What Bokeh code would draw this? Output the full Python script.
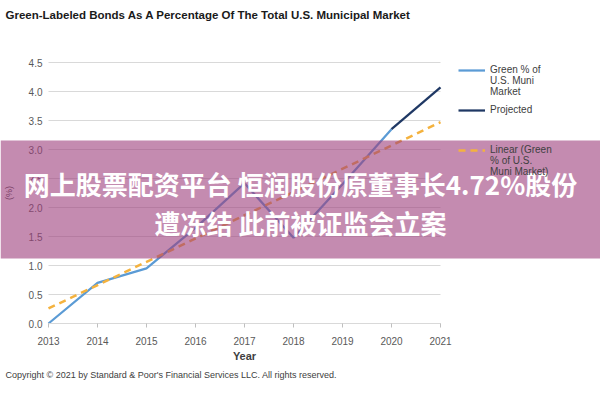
from bokeh.plotting import figure
from bokeh.models import (Legend, LegendItem, BoxAnnotation, Label,
                          FixedTicker, Range1d)
from bokeh.embed import file_html
from bokeh.resources import INLINE

# ---- data ----
years = [2013, 2014, 2015, 2016, 2017, 2018, 2019, 2020]
green_pct = [0.0, 0.70, 0.95, 1.65, 2.42, 1.48, 2.40, 3.35]
proj_years = [2020, 2021]
proj_pct = [3.35, 4.07]
trend_years = [2013, 2021]
trend_pct = [0.26, 3.47]
x_ticks = [2013, 2014, 2015, 2016, 2017, 2018, 2019, 2020, 2021]
y_ticks = [0.0, 0.5, 1.0, 1.5, 2.0, 2.5, 3.0, 3.5, 4.0, 4.5]
y_tick_labels = ["0.0", "0.5", "1.0", "1.5", "2.0", "2.5", "3.0", "3.5", "4.0", "4.5"]

title_text = "Green-Labeled Bonds As A Percentage Of The Total U.S. Municipal Market"
copyright_text = "Copyright \u00a9 2021 by Standard & Poor's Financial Services LLC. All rights reserved."
overlay_line1 = "网上股票配资平台 恒润股份原董事长4.72%股份"
overlay_line2 = "遭冻结 此前被证监会立案"

FONT = "Liberation Sans"
W, H = 600, 400
# plot area in canvas pixels (left, right, top, bottom)
PL, PR, PT, PB = 48, 440, 62, 323
X0, X1 = x_ticks[0], x_ticks[-1]
Y0, Y1 = y_ticks[0], y_ticks[-1]
xs = (PR - PL) / (X1 - X0)
ys = (PB - PT) / (Y1 - Y0)

p = figure(width=W, height=H, output_backend="svg", toolbar_location=None,
           title=None,
           x_range=Range1d(X0 - PL / xs, X1 + (W - PR) / xs),
           y_range=Range1d(Y0 - (H - PB) / ys, Y1 + PT / ys),
           min_border=0, min_border_left=0, min_border_right=0,
           min_border_top=0, min_border_bottom=0,
           background_fill_color="white", border_fill_color="white",
           outline_line_color=None)

# axes drawn at fixed locations inside the full-canvas frame
p.xaxis.fixed_location = Y0
p.xaxis.bounds = (X0, X1)
p.xaxis.ticker = FixedTicker(ticks=x_ticks)
p.xaxis.axis_label = "Year"
p.xaxis.axis_label_text_font = FONT
p.xaxis.axis_label_text_font_size = "11px"
p.xaxis.axis_label_text_font_style = "bold"
p.xaxis.axis_label_text_color = "#404040"
p.xaxis.axis_label_standoff = 2
p.xaxis.axis_line_color = "#D9D9D9"
p.xaxis.major_tick_line_color = "#BFBFBF"
p.xaxis.major_tick_out = 4
p.xaxis.major_tick_in = 0
p.xaxis.minor_tick_line_color = None
p.xaxis.major_label_text_font = FONT
p.xaxis.major_label_text_font_size = "10px"
p.xaxis.major_label_text_color = "#595959"
p.xaxis.major_label_standoff = 9

p.yaxis.fixed_location = X0
p.yaxis.bounds = (Y0, Y1)
p.yaxis.ticker = FixedTicker(ticks=y_ticks)
p.yaxis.major_label_overrides = {t: s for t, s in zip(y_ticks, y_tick_labels)}
p.yaxis.axis_label = "(%)"
p.yaxis.axis_label_text_font = FONT
p.yaxis.axis_label_text_font_size = "9px"
p.yaxis.axis_label_text_font_style = "normal"
p.yaxis.axis_label_text_color = "#404040"
p.yaxis.axis_label_standoff = 12
p.yaxis.axis_line_color = None
p.yaxis.major_tick_line_color = None
p.yaxis.major_tick_out = 0
p.yaxis.major_tick_in = 0
p.yaxis.minor_tick_line_color = None
p.yaxis.major_label_text_font = FONT
p.yaxis.major_label_text_font_size = "10px"
p.yaxis.major_label_text_color = "#595959"
p.yaxis.major_label_standoff = 6

p.xgrid.grid_line_color = None
p.ygrid.grid_line_color = None
# horizontal gridlines spanning only the plot area
p.segment(x0=[X0] * len(y_ticks), x1=[X1] * len(y_ticks), y0=y_ticks, y1=y_ticks,
          line_color="#D9D9D9", line_width=1)

# series
r_green = p.line(years, green_pct, line_color="#5B9BD5", line_width=2.25)
r_proj = p.line(proj_years, proj_pct, line_color="#1F3864", line_width=2.25)
r_trend = p.line(trend_years, trend_pct, line_color="#F4B23E", line_width=2.5,
                 line_dash="7 5")

legend = Legend(items=[
    LegendItem(label="\n\nGreen % of\nU.S. Muni\nMarket", renderers=[r_green]),
    LegendItem(label="Projected", renderers=[r_proj]),
    LegendItem(label="\n\nLinear (Green\n% of U.S.\nMuni Market)", renderers=[r_trend]),
], location=(458, 223))
legend.label_text_font = FONT
legend.label_text_font_size = "10px"
legend.label_text_line_height = 1.37
legend.label_text_color = "#404040"
legend.glyph_width = 27
legend.glyph_height = 8
legend.label_height = 8
legend.label_standoff = 5
legend.spacing = 7
legend.padding = 0
legend.margin = 0
legend.border_line_color = None
legend.background_fill_alpha = 0
p.add_layout(legend)

# title and source note
p.add_layout(Label(x=5, y=14, x_units="canvas", y_units="canvas", text=title_text,
                   text_baseline="middle", text_font=FONT, text_font_size="11.5px",
                   text_font_style="bold", text_color="#1a1a1a"))
p.add_layout(Label(x=5, y=374, x_units="canvas", y_units="canvas", text=copyright_text,
                   text_baseline="middle", text_font=FONT, text_font_size="9px",
                   text_color="#404040"))

# pink overlay band with white headline
band = BoxAnnotation(left=0, right=W, top=140, bottom=258,
                     left_units="canvas", right_units="canvas",
                     top_units="canvas", bottom_units="canvas",
                     fill_color="#9D3E7B", fill_alpha=0.6, line_color=None,
                     level="overlay")
p.add_layout(band)
for txt, yy in [(overlay_line1, 183), (overlay_line2, 222)]:
    p.add_layout(Label(x=300, y=yy, x_units="canvas", y_units="canvas", text=txt,
                       text_align="center", text_baseline="middle",
                       text_font="Noto Sans CJK SC", text_font_size="26px",
                       text_font_style="bold", text_color="white", level="overlay"))

open("out.html", "w").write(file_html(p, INLINE))
